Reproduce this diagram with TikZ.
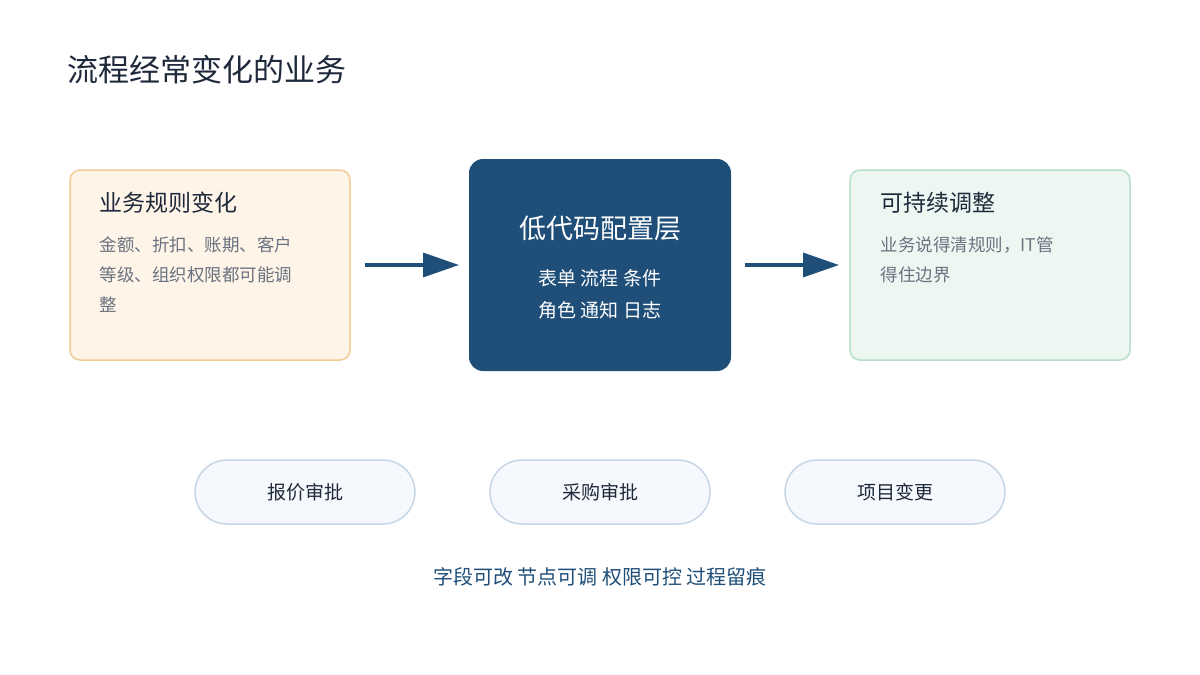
\documentclass[tikz,border=0pt]{standalone}
\usepackage{fontspec}
\setmainfont{Noto Sans CJK SC}
\usetikzlibrary{arrows.meta}
\definecolor{ink}{HTML}{1E293B}
\definecolor{gray}{HTML}{6B7280}
\definecolor{navy}{HTML}{1F4E79}
\definecolor{orf}{HTML}{FEF4E8}
\definecolor{ord}{HTML}{F2CB96}
\definecolor{grf}{HTML}{EDF7F2}
\definecolor{grd}{HTML}{B9DFCB}
\definecolor{pf}{HTML}{F5F8FC}
\definecolor{pd}{HTML}{C6D6E6}
\tikzset{
 card/.style={rounded corners=10pt,line width=1.5pt,minimum width=280pt,minimum height=190pt},
 pill/.style={rounded corners=32pt,draw=pd,fill=pf,line width=1.5pt,minimum width=220pt,minimum height=64pt,font=\fontsize{19}{19}\selectfont,text=ink},
 arr/.style={-{Triangle[length=36pt,width=24pt]},line width=3.5pt,draw=navy},
 ct/.style={anchor=west,font=\fontsize{23}{23}\selectfont,text=ink},
 cb/.style={anchor=north west,align=left,font=\fontsize{17.5}{30}\selectfont,text=gray},
}
\begin{document}
\begin{tikzpicture}[x=1pt,y=-1pt]
\useasboundingbox (0,0) rectangle (1200,675);
\node[anchor=west,font=\fontsize{31}{31}\selectfont,text=ink] (title) at (64,70) {流程经常变化的业务};
\node[card,draw=ord,fill=orf] (l) at (210,265) {};
\node[ct] (lt) at (96,203) {业务规则变化};
\node[cb] (lb) at (96,233) {金额、折扣、账期、客户\\等级、组织权限都可能调\\整};
\node[rounded corners=14pt,fill=navy,minimum width=262pt,minimum height=212pt] (m) at (600,265) {};
\node[text=white,font=\fontsize{27}{27}\selectfont] (mt) at (600,228) {低代码配置层};
\node[text=white,align=center,font=\fontsize{19}{32}\selectfont] (mb) at (600,294) {表单 流程 条件\\角色 通知 日志};
\node[card,draw=grd,fill=grf] (r) at (990,265) {};
\node[ct] (rt) at (877,203) {可持续调整};
\node[cb] (rb) at (877,233) {业务说得清规则，IT管\\得住边界};
\coordinate (a1) at (365,265); \coordinate (a2) at (459,265);
\coordinate (b1) at (745,265); \coordinate (b2) at (839,265);
\draw[arr] (a1) -- (a2);
\draw[arr] (b1) -- (b2);
\node[pill] (p1) at (305,492) {报价审批};
\node[pill] (p2) at (600,492) {采购审批};
\node[pill] (p3) at (895,492) {项目变更};
\node[text=navy,font=\fontsize{20}{20}\selectfont] (bt) at (600,577) {字段可改 节点可调 权限可控 过程留痕};
\end{tikzpicture}
\end{document}
